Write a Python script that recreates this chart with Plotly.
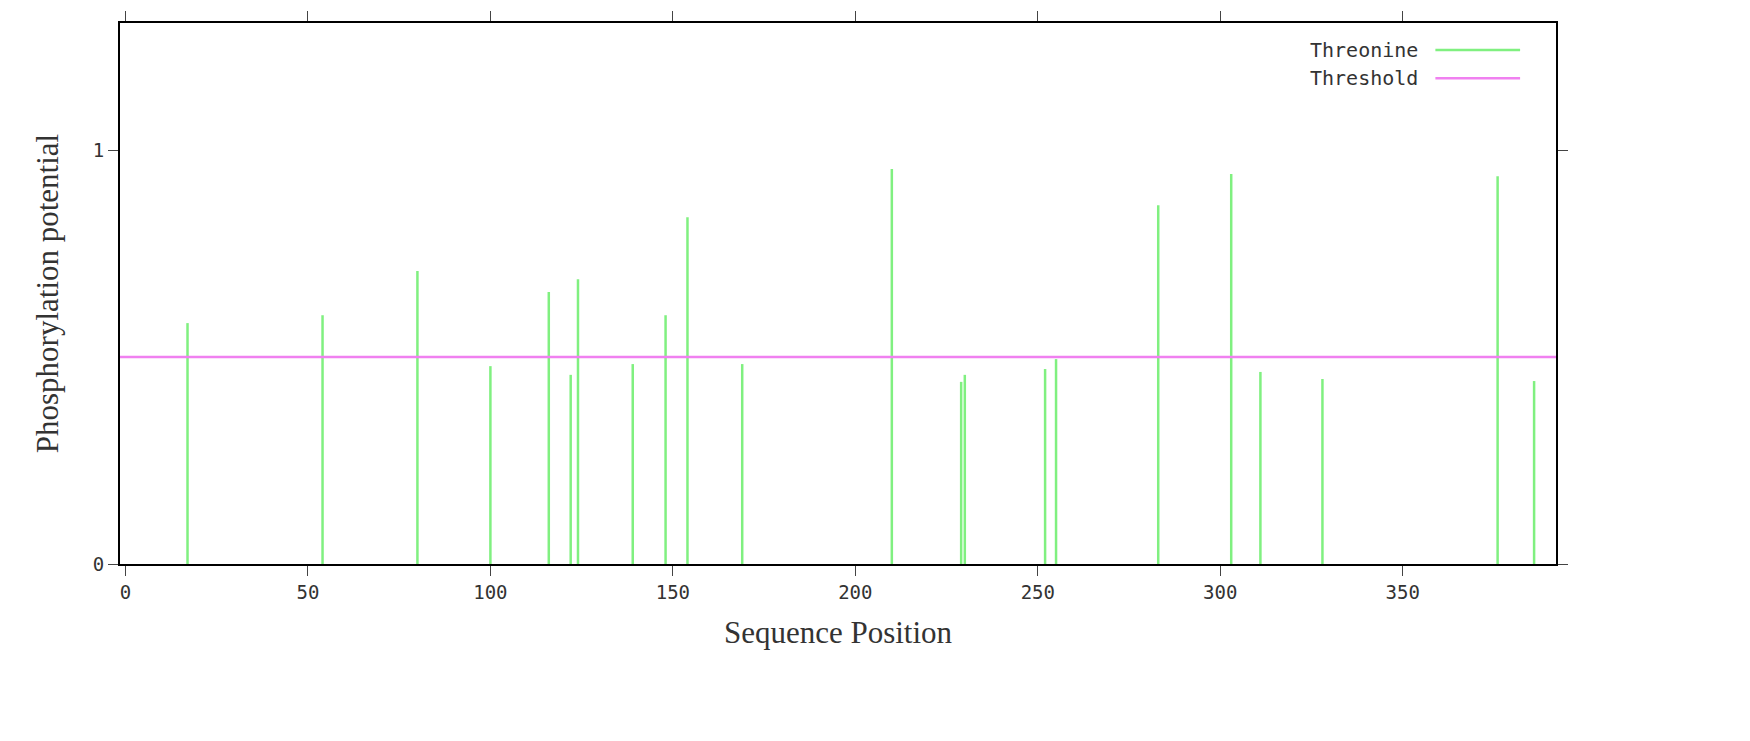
import plotly.graph_objects as go

positions = [17, 54, 80, 100, 116, 122, 124, 139, 148, 154, 169, 210, 229, 230, 252, 255, 283, 303, 311, 328, 376, 386]
scores = [0.582, 0.601, 0.708, 0.478, 0.657, 0.457, 0.688, 0.483, 0.601, 0.838, 0.483, 0.954, 0.440, 0.457, 0.471, 0.495, 0.867, 0.942, 0.464, 0.447, 0.937, 0.442]
threshold = 0.5
x_ticks = [0, 50, 100, 150, 200, 250, 300, 350]
y_ticks = [0, 1]

xs, ys = [], []
for p, s in zip(positions, scores):
    xs += [p, p, None]
    ys += [0, s, None]

fig = go.Figure()
fig.add_trace(go.Scatter(x=xs, y=ys, mode="lines", line=dict(color="#80f080", width=2.5), showlegend=False))
fig.add_trace(go.Scatter(x=[-1.5, 392], y=[threshold, threshold], mode="lines",
                         line=dict(color="#f080f0", width=2.5), showlegend=False))

tickfont = dict(family="DejaVu Sans Mono", size=19, color="#333")
fig.update_layout(
    width=1750, height=741, paper_bgcolor="white", plot_bgcolor="white",
    margin=dict(l=112, r=202, t=15, b=185),
    xaxis=dict(range=[-1.5, 392], tickvals=x_ticks, ticks="outside", ticklen=10, mirror="allticks",
               automargin=False,
               showline=True, linecolor="black", linewidth=2, showgrid=False, zeroline=False, tickfont=tickfont,
               title=dict(text="Sequence Position", font=dict(family="Liberation Serif", size=31, color="#333"), standoff=20)),
    yaxis=dict(range=[0, 1.307], tickvals=y_ticks, ticks="outside", ticklen=10, mirror="allticks",
               automargin=False,
               showline=True, linecolor="black", linewidth=2, showgrid=False, zeroline=False, tickfont=tickfont,
               title=dict(text="Phosphorylation potential", font=dict(family="Liberation Serif", size=31, color="#333"), standoff=25)),
)
for i, (name, col) in enumerate([("Threonine", "#80f080"), ("Threshold", "#f080f0")]):
    yy = 0.95 - i * 0.052
    fig.add_annotation(xref="paper", yref="paper", x=0.905, y=yy, text=name, showarrow=False,
                       xanchor="right", yanchor="middle", font=dict(family="DejaVu Sans Mono", size=20, color="#333"))
    fig.add_shape(type="line", xref="paper", yref="paper", x0=0.916, x1=0.975, y0=yy, y1=yy,
                  line=dict(color=col, width=2.5))
fig.write_html("out.html")
